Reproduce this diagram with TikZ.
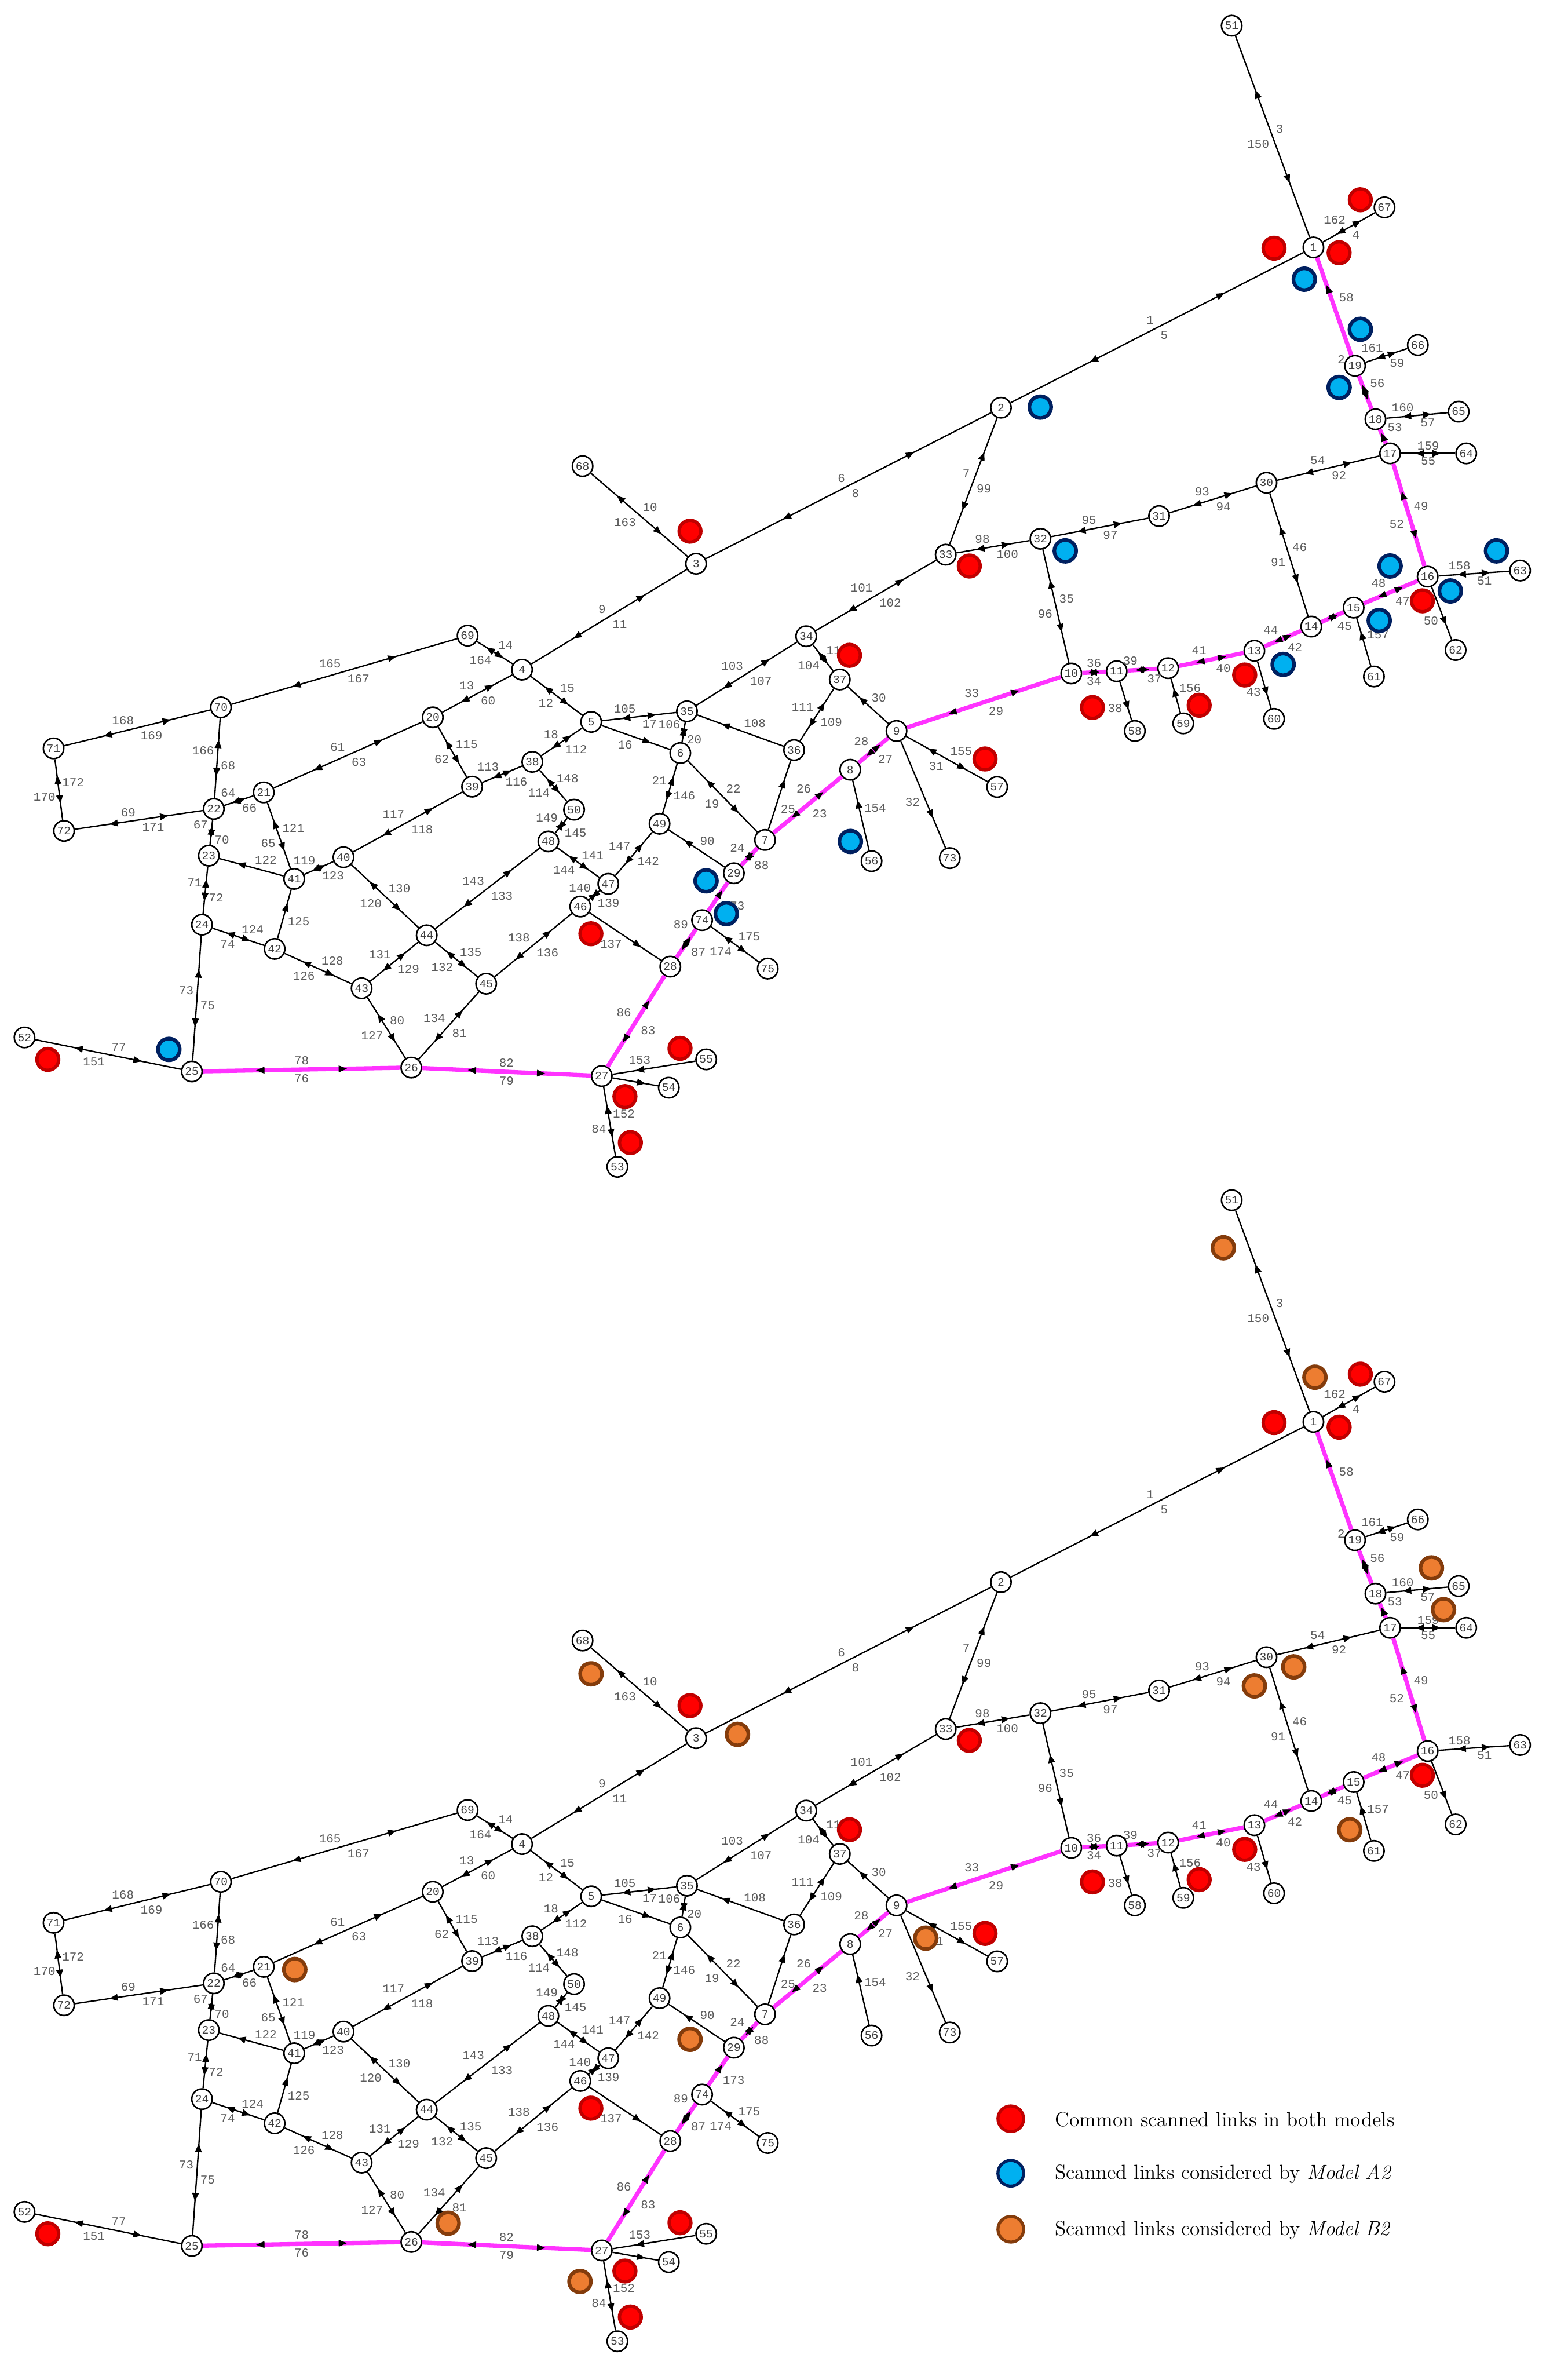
\documentclass[tikz,border=0pt]{standalone}
\usepackage{fontspec}
\newfontfamily\monof{Liberation Mono}
\usetikzlibrary{arrows.meta,decorations.markings}
\definecolor{lblgray}{RGB}{90,90,90}
\definecolor{nodegray}{RGB}{60,60,60}
\definecolor{pathmag}{RGB}{255,51,255}
\definecolor{redfill}{RGB}{255,0,0}
\definecolor{redline}{RGB}{192,0,0}
\definecolor{bluefill}{RGB}{0,176,240}
\definecolor{blueline}{RGB}{0,32,96}
\definecolor{orangefill}{RGB}{237,125,49}
\definecolor{orangeline}{RGB}{132,60,12}
\tikzset{
  nn/.style={circle,draw=black,line width=1pt,fill=white,minimum size=13.5pt,inner sep=0pt,text=nodegray,font=\monof\fontsize{7.5pt}{7.5pt}\selectfont},
  lbl/.style={text=lblgray,font=\monof\fontsize{8pt}{8pt}\selectfont,inner sep=1.8pt},
  edge/.style={draw=black,line width=0.9pt},
  pedge/.style={draw=pathmag,line width=2.8pt},
  bimark/.style={postaction={decorate,decoration={markings,
      mark=at position 0.27 with {\arrowreversed[black,line width=0.4pt]{Triangle[length=5.5pt,width=4.5pt]}},
      mark=at position 0.73 with {\arrow[black,line width=0.4pt]{Triangle[length=5.5pt,width=4.5pt]}}}}},
  unimark/.style={postaction={decorate,decoration={markings,
      mark=at position 0.72 with {\arrow[black,line width=0.4pt]{Triangle[length=5.5pt,width=4.5pt]}}}}},
  redm/.style={circle,minimum size=14.4pt,inner sep=0pt,fill=redfill,draw=redline,line width=2.2pt},
  bluem/.style={circle,minimum size=14.4pt,inner sep=0pt,fill=bluefill,draw=blueline,line width=2.4pt},
  orangem/.style={circle,minimum size=14.4pt,inner sep=0pt,fill=orangefill,draw=orangeline,line width=2.4pt},
  legtext/.style={anchor=west,inner sep=0pt,font=\fontsize{13.5pt}{16pt}\selectfont},
}
\newcommand\bi[4]{\draw[edge,bimark] (#1) -- node[lbl,auto]{#3} node[lbl,auto,swap]{#4} (#2);}
\newcommand\ur[3]{\draw[edge,unimark] (#1) -- node[lbl,auto,swap]{#3} (#2);}
\newcommand\pbi[4]{\draw[pedge,bimark] (#1) -- node[lbl,auto]{#3} node[lbl,auto,swap]{#4} (#2);}
\newcommand\pur[3]{\draw[pedge,unimark] (#1) -- node[lbl,auto,swap]{#3} (#2);}

\newcommand\drawnet{%
\node[nn] (n1) at (868,163.5) {1};
\node[nn] (n2) at (661.5,269.4) {2};
\node[nn] (n3) at (460,372.5) {3};
\node[nn] (n4) at (345,442.5) {4};
\node[nn] (n5) at (390.7,477) {5};
\node[nn] (n6) at (449.6,497.6) {6};
\node[nn] (n7) at (505.6,555) {7};
\node[nn] (n8) at (561.9,508.6) {8};
\node[nn] (n9) at (592.5,483) {9};
\node[nn] (n10) at (708,445) {10};
\node[nn] (n11) at (738,443.5) {11};
\node[nn] (n12) at (772,441.5) {12};
\node[nn] (n13) at (829,430) {13};
\node[nn] (n14) at (866.6,414) {14};
\node[nn] (n15) at (894.6,401.5) {15};
\node[nn] (n16) at (943.5,381) {16};
\node[nn] (n17) at (918.7,299.6) {17};
\node[nn] (n18) at (909,277) {18};
\node[nn] (n19) at (895.5,241.7) {19};
\node[nn] (n20) at (286,474) {20};
\node[nn] (n21) at (174.3,523.6) {21};
\node[nn] (n22) at (141.3,534.5) {22};
\node[nn] (n23) at (138,565.4) {23};
\node[nn] (n24) at (133.5,611) {24};
\node[nn] (n25) at (126.8,708) {25};
\node[nn] (n26) at (271.8,705.4) {26};
\node[nn] (n27) at (397.7,711) {27};
\node[nn] (n28) at (443,638.7) {28};
\node[nn] (n29) at (485,577) {29};
\node[nn] (n30) at (837,319) {30};
\node[nn] (n31) at (766,341) {31};
\node[nn] (n32) at (687.6,356) {32};
\node[nn] (n33) at (625,366.5) {33};
\node[nn] (n34) at (532.8,420.4) {34};
\node[nn] (n35) at (454,470) {35};
\node[nn] (n36) at (524.8,495.6) {36};
\node[nn] (n37) at (555,449) {37};
\node[nn] (n38) at (351.8,503.4) {38};
\node[nn] (n39) at (312,519.8) {39};
\node[nn] (n40) at (227,566.4) {40};
\node[nn] (n41) at (194.4,580.7) {41};
\node[nn] (n42) at (181.5,627) {42};
\node[nn] (n43) at (239,653) {43};
\node[nn] (n44) at (282,618) {44};
\node[nn] (n45) at (321.3,650) {45};
\node[nn] (n46) at (383.5,599) {46};
\node[nn] (n47) at (402,584) {47};
\node[nn] (n48) at (362.4,556) {48};
\node[nn] (n49) at (435.9,544.3) {49};
\node[nn] (n50) at (379.4,535) {50};
\node[nn] (n51) at (814,17) {51};
\node[nn] (n52) at (16.2,685.5) {52};
\node[nn] (n53) at (408,771) {53};
\node[nn] (n54) at (442,718.7) {54};
\node[nn] (n55) at (466.7,700) {55};
\node[nn] (n56) at (576,569) {56};
\node[nn] (n57) at (659,520) {57};
\node[nn] (n58) at (750,483) {58};
\node[nn] (n59) at (782,478) {59};
\node[nn] (n60) at (842,475) {60};
\node[nn] (n61) at (908,447) {61};
\node[nn] (n62) at (962,429.5) {62};
\node[nn] (n63) at (1004.6,377) {63};
\node[nn] (n64) at (969,299.6) {64};
\node[nn] (n65) at (964,272) {65};
\node[nn] (n66) at (937,228) {66};
\node[nn] (n67) at (915,137) {67};
\node[nn] (n68) at (385,308) {68};
\node[nn] (n69) at (309,420) {69};
\node[nn] (n70) at (146,467.4) {70};
\node[nn] (n71) at (35.4,494.5) {71};
\node[nn] (n72) at (42.3,549) {72};
\node[nn] (n73) at (627.7,567) {73};
\node[nn] (n74) at (464,608) {74};
\node[nn] (n75) at (507.4,640) {75};
% black two-way links
\bi{n1}{n51}{150}{3}
\bi{n1}{n67}{162}{4}
\bi{n2}{n1}{1}{5}
\bi{n3}{n2}{6}{8}
\bi{n68}{n3}{10}{163}
\bi{n4}{n3}{9}{11}
\bi{n33}{n2}{7}{99}
\bi{n33}{n32}{98}{100}
\bi{n32}{n31}{95}{97}
\bi{n31}{n30}{93}{94}
\bi{n30}{n17}{54}{92}
\bi{n17}{n64}{159}{55}
\bi{n18}{n65}{160}{57}
\bi{n19}{n66}{161}{59}
\bi{n16}{n63}{158}{51}
\bi{n34}{n33}{101}{102}
\bi{n10}{n32}{96}{35}
\bi{n14}{n30}{91}{46}
\bi{n52}{n25}{77}{151}
\bi{n25}{n24}{73}{75}
\bi{n24}{n23}{71}{72}
\bi{n23}{n22}{67}{70}
\bi{n22}{n70}{166}{68}
\bi{n72}{n71}{170}{172}
\bi{n71}{n70}{168}{169}
\bi{n72}{n22}{69}{171}
\bi{n70}{n69}{165}{167}
\bi{n69}{n4}{14}{164}
\bi{n22}{n21}{64}{66}
\bi{n21}{n20}{61}{63}
\bi{n20}{n4}{13}{60}
\bi{n41}{n21}{65}{121}
\bi{n41}{n40}{119}{123}
\bi{n40}{n39}{117}{118}
\bi{n40}{n44}{130}{120}
\bi{n24}{n42}{124}{74}
\bi{n42}{n43}{128}{126}
\bi{n43}{n44}{131}{129}
\bi{n44}{n45}{135}{132}
\bi{n44}{n48}{143}{133}
\bi{n43}{n26}{80}{127}
\bi{n26}{n45}{134}{81}
\bi{n45}{n46}{138}{136}
\bi{n39}{n20}{62}{115}
\bi{n39}{n38}{113}{116}
\bi{n38}{n5}{18}{112}
\bi{n38}{n50}{148}{114}
\bi{n48}{n50}{149}{145}
\bi{n48}{n47}{141}{144}
\bi{n46}{n47}{140}{139}
\bi{n47}{n49}{147}{142}
\bi{n4}{n5}{15}{12}
\bi{n5}{n35}{105}{17}
\bi{n6}{n35}{106}{20}
\bi{n35}{n34}{103}{107}
\bi{n34}{n37}{110}{104}
\bi{n36}{n37}{111}{109}
\bi{n49}{n6}{21}{146}
\bi{n6}{n7}{22}{19}
\bi{n9}{n57}{155}{31}
\bi{n74}{n75}{175}{174}
\bi{n53}{n27}{84}{152}
% black one-way links
\ur{n16}{n62}{50}
\ur{n61}{n15}{157}
\ur{n13}{n60}{43}
\ur{n59}{n12}{156}
\ur{n11}{n58}{38}
\ur{n41}{n23}{122}
\ur{n42}{n41}{125}
\ur{n46}{n28}{137}
\ur{n5}{n6}{16}
\ur{n36}{n35}{108}
\ur{n9}{n37}{30}
\ur{n29}{n49}{90}
\draw[edge,unimark] (n7) -- node[lbl,auto,swap,pos=0.4]{25} (n36);
\ur{n56}{n8}{154}
\ur{n9}{n73}{32}
\ur{n55}{n27}{153}
\ur{n27}{n54}{85}
% highlighted path
\pbi{n25}{n26}{78}{76}
\pbi{n26}{n27}{82}{79}
\pbi{n27}{n28}{86}{83}
\draw[pedge,bimark] (n28) -- node[lbl,auto,pos=0.85]{89} node[lbl,auto,swap]{87} (n74);
\pur{n74}{n29}{173}
\pbi{n29}{n7}{24}{88}
\draw[pedge,bimark] (n7) -- node[lbl,auto,pos=0.62]{26} node[lbl,auto,swap]{23} (n8);
\pbi{n8}{n9}{28}{27}
\pbi{n9}{n10}{33}{29}
\pbi{n10}{n11}{36}{34}
\pbi{n11}{n12}{39}{37}
\pbi{n12}{n13}{41}{40}
\pbi{n13}{n14}{44}{42}
\pbi{n14}{n15}{}{45}
\pbi{n15}{n16}{48}{47}
\pbi{n16}{n17}{52}{49}
\pur{n17}{n18}{53}
\pbi{n18}{n19}{}{56}
\draw[pedge,unimark] (n19) -- node[lbl,auto,swap]{58} node[lbl,auto,pos=0.05]{2} (n1);
}

\newcommand\redmarks{%
\node[redm] (r1) at (842,164) {};
\node[redm] (r2) at (899,132) {};
\node[redm] (r3) at (885,167) {};
\node[redm] (r4) at (456,351) {};
\node[redm] (r5) at (640.6,374) {};
\node[redm] (r6) at (561.4,433) {};
\node[redm] (r7) at (722,467.5) {};
\node[redm] (r8) at (792.5,466) {};
\node[redm] (r9) at (822.6,446) {};
\node[redm] (r10) at (940,397) {};
\node[redm] (r11) at (651,501.5) {};
\node[redm] (r12) at (390.5,617) {};
\node[redm] (r13) at (449.4,692.7) {};
\node[redm] (r14) at (413,724.6) {};
\node[redm] (r15) at (416.6,755) {};
\node[redm] (r16) at (31.6,700) {};
}

\begin{document}
\begin{tikzpicture}[x=1pt,y=-1pt]
\fill[white] (0,0) rectangle (1036,1568);
\path[use as bounding box] (0,0) rectangle (1036,1568);
% top network (Model A2)
\begin{scope}[name prefix=t]
\drawnet
\redmarks
\node[bluem] (b1) at (862,184.5) {};
\node[bluem] (b2) at (899,217.6) {};
\node[bluem] (b3) at (885,256) {};
\node[bluem] (b4) at (687.5,269) {};
\node[bluem] (b5) at (704,364) {};
\node[bluem] (b6) at (918.7,374) {};
\node[bluem] (b7) at (989,364) {};
\node[bluem] (b8) at (958.5,390.5) {};
\node[bluem] (b9) at (911.5,410) {};
\node[bluem] (b10) at (848,439) {};
\node[bluem] (b11) at (562,556) {};
\node[bluem] (b12) at (466.6,582) {};
\node[bluem] (b13) at (480,603.7) {};
\node[bluem] (b14) at (111.6,693.4) {};
\end{scope}
% bottom network (Model B2)
\begin{scope}[name prefix=b,yshift=-776pt]
\drawnet
\redmarks
\node[orangem] (o1) at (808.5,48.5) {};
\node[orangem] (o2) at (869,134) {};
\node[orangem] (o3) at (946,260) {};
\node[orangem] (o4) at (954,287.6) {};
\node[orangem] (o5) at (855,325.4) {};
\node[orangem] (o6) at (829,338) {};
\node[orangem] (o7) at (892,433) {};
\node[orangem] (o8) at (390.6,330) {};
\node[orangem] (o9) at (487.4,370) {};
\node[orangem] (o10) at (611.8,504.7) {};
\node[orangem] (o11) at (456,571.5) {};
\node[orangem] (o12) at (383.3,731.5) {};
\node[orangem] (o13) at (194.8,525.4) {};
\node[orangem] (o14) at (296.2,693) {};
\end{scope}
% legend
\node[redm,minimum size=17pt,line width=2pt] (lgr) at (668,1400) {};
\node[bluem,minimum size=17pt,line width=2pt] (lgb) at (668,1436) {};
\node[orangem,minimum size=17pt,line width=2pt] (lgo) at (668,1473) {};
\node[legtext] (lt1) at (697,1400.5) {Common scanned links in both models};
\node[legtext] (lt2) at (697,1436.5) {Scanned links considered by \textit{Model A2}};
\node[legtext] (lt3) at (697,1473.5) {Scanned links considered by \textit{Model B2}};
\end{tikzpicture}
\end{document}
